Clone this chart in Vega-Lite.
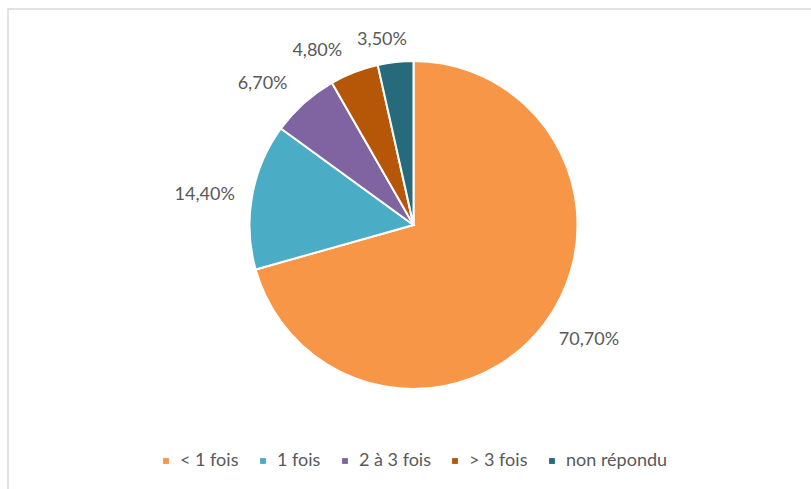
{
  "$schema": "https://vega.github.io/schema/vega-lite/v6.json",
  "width": 811,
  "height": 500,
  "autosize": {"type": "none"},
  "padding": {"left": 8, "top": 9, "right": 0, "bottom": 0},
  "background": "white",
  "config": {
    "view": {"stroke": "#d9d9d9", "strokeWidth": 1.5},
    "font": "Lato",
    "locale": {
      "number": {"decimal": ",", "thousands": " ", "grouping": [3], "currency": ["", " €"]}
    }
  },
  "data": {
    "values": [
      {"cat": "< 1 fois", "share": 0.707, "ord": 1},
      {"cat": "1 fois", "share": 0.144, "ord": 2},
      {"cat": "2 à 3 fois", "share": 0.067, "ord": 3},
      {"cat": "> 3 fois", "share": 0.048, "ord": 4},
      {"cat": "non répondu", "share": 0.035, "ord": 5}
    ]
  },
  "transform": [
    {"stack": "share", "groupby": [], "sort": [{"field": "ord", "order": "ascending"}], "as": ["s0", "s1"]},
    {"calculate": "(datum.s0 + datum.s1) / 2", "as": "mid"}
  ],
  "encoding": {
    "y": {"datum": 0.568, "type": "quantitative", "scale": {"domain": [0, 1]}, "axis": null}
  },
  "layer": [
    {
      "mark": {"type": "arc", "outerRadius": 164, "stroke": "white", "strokeWidth": 2},
      "encoding": {
        "theta": {"field": "s0", "type": "quantitative", "scale": {"domain": [0, 1.001]}},
        "theta2": {"field": "s1"},
        "color": {
          "field": "cat",
          "type": "nominal",
          "scale": {
            "domain": ["< 1 fois", "1 fois", "2 à 3 fois", "> 3 fois", "non répondu"],
            "range": ["#F79646", "#4BACC6", "#8064A2", "#B65708", "#276A7C"]
          },
          "legend": {
            "orient": "none",
            "legendX": 149,
            "legendY": 443,
            "direction": "horizontal",
            "title": null,
            "symbolType": "square",
            "symbolSize": 34,
            "symbolStrokeWidth": 0,
            "labelFontSize": 18,
            "labelColor": "#595959",
            "labelFont": "Lato",
            "labelOffset": 5,
            "columnPadding": 15
          }
        }
      }
    },
    {
      "transform": [{"filter": "datum.ord == 1"}],
      "mark": {"type": "text", "radius": 205, "dx": 12, "dy": -9, "fontSize": 18, "color": "#595959", "font": "Lato"},
      "encoding": {
        "theta": {"field": "mid", "type": "quantitative", "scale": {"domain": [0, 1.001]}},
        "text": {"field": "share", "type": "quantitative", "format": ".2%"}
      }
    },
    {
      "transform": [{"filter": "datum.ord == 2"}],
      "mark": {"type": "text", "radius": 205, "dx": -7, "dy": 6, "fontSize": 18, "color": "#595959", "font": "Lato"},
      "encoding": {
        "theta": {"field": "mid", "type": "quantitative", "scale": {"domain": [0, 1.001]}},
        "text": {"field": "share", "type": "quantitative", "format": ".2%"}
      }
    },
    {
      "transform": [{"filter": "datum.ord == 3"}],
      "mark": {"type": "text", "radius": 205, "dx": -14, "dy": 12, "fontSize": 18, "color": "#595959", "font": "Lato"},
      "encoding": {
        "theta": {"field": "mid", "type": "quantitative", "scale": {"domain": [0, 1.001]}},
        "text": {"field": "share", "type": "quantitative", "format": ".2%"}
      }
    },
    {
      "transform": [{"filter": "datum.ord == 4"}],
      "mark": {"type": "text", "radius": 205, "dx": -22, "dy": 17, "fontSize": 18, "color": "#595959", "font": "Lato"},
      "encoding": {
        "theta": {"field": "mid", "type": "quantitative", "scale": {"domain": [0, 1.001]}},
        "text": {"field": "share", "type": "quantitative", "format": ".2%"}
      }
    },
    {
      "transform": [{"filter": "datum.ord == 5"}],
      "mark": {"type": "text", "radius": 205, "dx": -9, "dy": 19, "fontSize": 18, "color": "#595959", "font": "Lato"},
      "encoding": {
        "theta": {"field": "mid", "type": "quantitative", "scale": {"domain": [0, 1.001]}},
        "text": {"field": "share", "type": "quantitative", "format": ".2%"}
      }
    }
  ]
}
